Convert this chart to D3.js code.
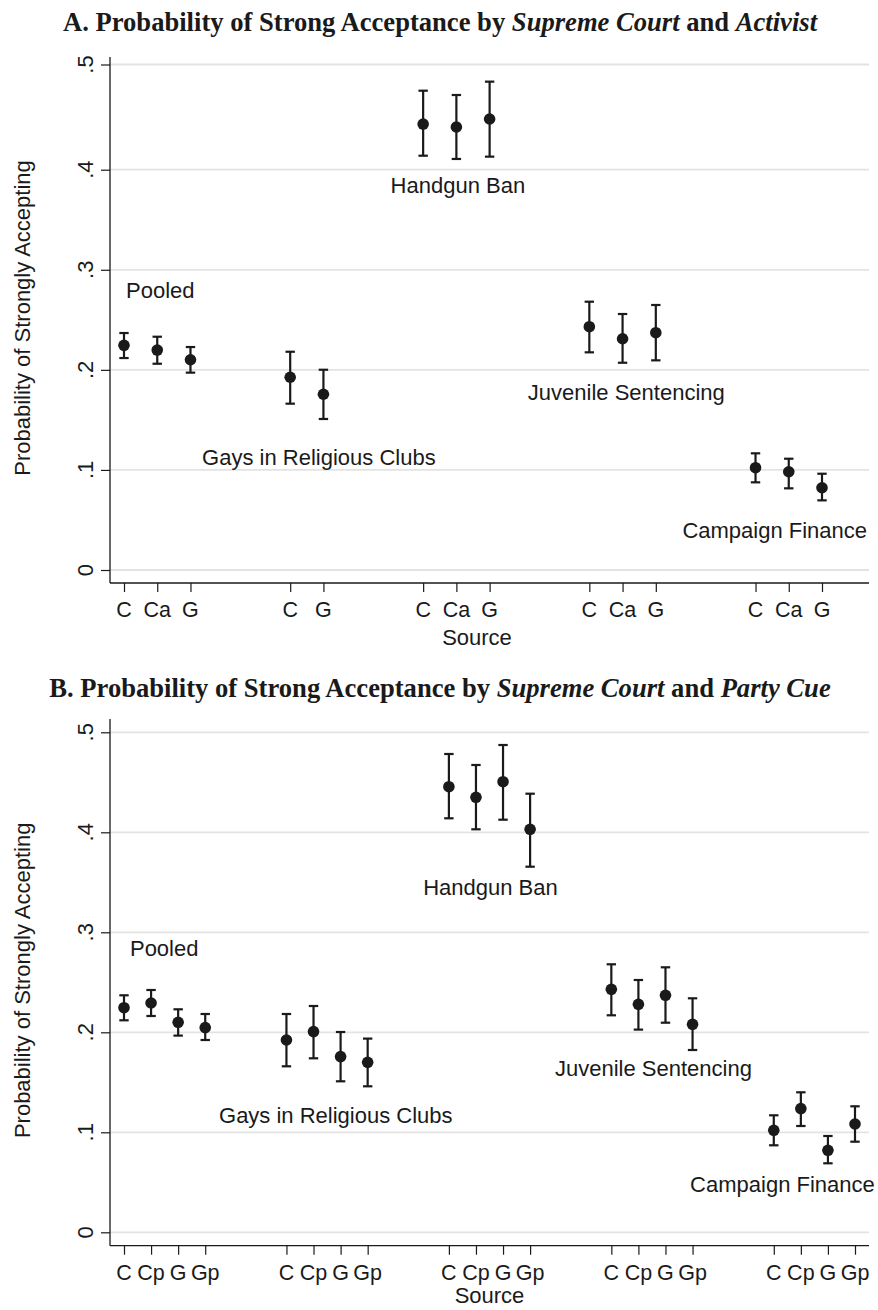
<!DOCTYPE html>
<html>
<head>
<meta charset="utf-8">
<script src="https://cdn.jsdelivr.net/npm/d3@7"></script>
<style>
  html, body { margin: 0; padding: 0; background: #fff; }
  svg { display: block; }
  text { font-family: "Liberation Sans", Arial, sans-serif; fill: #1a1a1a; }
  .title { font-family: "Liberation Serif", "Times New Roman", serif; font-weight: bold; }
</style>
</head>
<body>
<svg id="chart" width="878" height="1310"></svg>
<script>
// ---------------- DATA ----------------
// Panel A: Supreme Court and Activist
const posA = [1, 2, 3, 6, 7, 10, 11, 12, 15, 16, 17, 20, 21, 22];
const tickLabelsA = ["C", "Ca", "G", "C", "G", "C", "Ca", "G", "C", "Ca", "G", "C", "Ca", "G"];
const estA = [0.2245, 0.2198, 0.2101, 0.1926, 0.1756, 0.4434, 0.4406, 0.4482, 0.2431, 0.2311, 0.2371, 0.1022, 0.0982, 0.0822];
const hiA  = [0.2368, 0.2331, 0.2228, 0.2181, 0.2001, 0.4751, 0.4710, 0.4837, 0.2681, 0.2558, 0.2648, 0.1166, 0.1112, 0.0962];
const loA  = [0.2118, 0.2061, 0.1972, 0.1662, 0.1509, 0.4133, 0.4102, 0.4124, 0.2175, 0.2071, 0.2095, 0.0876, 0.0816, 0.0696];
const issueLabelsA = ["Pooled", "Handgun Ban", "Gays in Religious Clubs", "Juvenile Sentencing", "Campaign Finance"];
const issueLabelXA = [1.06, 9.02, 3.35, 13.15, 17.80];
const issueLabelYA = [0.2718, 0.3767, 0.1049, 0.1699, 0.0323];

// Panel B: Supreme Court and Party Cue
const posB = [1, 2, 3, 4, 7, 8, 9, 10, 13, 14, 15, 16, 19, 20, 21, 22, 25, 26, 27, 28];
const tickLabelsB = ["C", "Cp", "G", "Gp", "C", "Cp", "G", "Gp", "C", "Cp", "G", "Gp", "C", "Cp", "G", "Gp", "C", "Cp", "G", "Gp"];
const estB = [0.2246, 0.2293, 0.2100, 0.2047, 0.1923, 0.2007, 0.1757, 0.1700, 0.4456, 0.4350, 0.4506, 0.4030, 0.2430, 0.2280, 0.2370, 0.2080, 0.1020, 0.1237, 0.0820, 0.1083];
const hiB  = [0.2370, 0.2423, 0.2230, 0.2183, 0.2183, 0.2263, 0.2003, 0.1937, 0.4783, 0.4673, 0.4873, 0.4386, 0.2680, 0.2523, 0.2650, 0.2340, 0.1170, 0.1400, 0.0963, 0.1260];
const loB  = [0.2120, 0.2163, 0.1967, 0.1923, 0.1660, 0.1740, 0.1510, 0.1460, 0.4140, 0.4030, 0.4126, 0.3656, 0.2170, 0.2027, 0.2096, 0.1823, 0.0870, 0.1063, 0.0690, 0.0906];
const issueLabelsB = ["Pooled", "Handgun Ban", "Gays in Religious Clubs", "Juvenile Sentencing", "Campaign Finance"];
const issueLabelXB = [1.22, 12.05, 4.51, 16.92, 21.91];
const issueLabelYB = [0.2763, 0.3373, 0.1093, 0.1563, 0.0406];

const yTicks = [0, 0.1, 0.2, 0.3, 0.4, 0.5];
const yTickLabels = ["0", ".1", ".2", ".3", ".4", ".5"];

// ---------------- DRAWING ----------------
const svg = d3.select("#chart");
const INK = "#1a1a1a";

function panel(cfg) {
  const g = svg.append("g");
  const x = d3.scaleLinear().domain(cfg.xDomain).range(cfg.xRange);
  const y = d3.scaleLinear().domain(cfg.yDomain).range(cfg.yRange);

  // title (with italic parts)
  const t = g.append("text").attr("class", "title")
    .attr("x", 440).attr("y", cfg.titleY)
    .attr("text-anchor", "middle")
    .style("font-size", "26.6px");
  cfg.titleParts.forEach(p => {
    t.append("tspan").text(p[0]).style("font-style", p[1] ? "italic" : "normal");
  });

  // gridlines
  g.append("g").selectAll("line").data(yTicks).join("line")
    .attr("x1", cfg.left).attr("x2", cfg.right)
    .attr("y1", d => y(d)).attr("y2", d => y(d))
    .attr("stroke", "#e3e3e3").attr("stroke-width", 1.8);

  // y axis
  const yAxis = d3.axisLeft(y).tickValues(yTicks)
    .tickFormat((d, i) => yTickLabels[i]).tickSize(9).tickPadding(0);
  const ya = g.append("g").attr("transform", `translate(${cfg.left},0)`).call(yAxis);
  ya.select(".domain").remove();
  ya.selectAll(".tick line").attr("stroke", INK).attr("stroke-width", 1.2);
  ya.selectAll(".tick text").remove();
  g.append("line").attr("x1", cfg.left).attr("x2", cfg.left)
    .attr("y1", cfg.axisTop).attr("y2", cfg.axisBottom)
    .attr("stroke", INK).attr("stroke-width", 1.3);
  g.append("g").selectAll("text").data(yTicks).join("text")
    .attr("transform", d => `translate(${cfg.left - 17},${y(d)}) rotate(-90)`)
    .attr("text-anchor", "middle")
    .style("font-size", "22px")
    .text((d, i) => yTickLabels[i]);

  // x axis
  const xAxis = d3.axisBottom(x).tickValues(cfg.pos)
    .tickFormat((d, i) => cfg.tickLabels[i]).tickSize(9).tickPadding(0);
  const xa = g.append("g").attr("transform", `translate(0,${cfg.axisBottom})`).call(xAxis);
  xa.select(".domain").remove();
  xa.selectAll(".tick line").attr("stroke", INK).attr("stroke-width", 1.2);
  xa.selectAll(".tick text").remove();
  g.append("line").attr("x1", cfg.left).attr("x2", cfg.right)
    .attr("y1", cfg.axisBottom).attr("y2", cfg.axisBottom)
    .attr("stroke", INK).attr("stroke-width", 1.3);
  g.append("g").selectAll("text").data(cfg.pos).join("text")
    .attr("x", d => x(d)).attr("y", cfg.axisBottom + 34)
    .attr("text-anchor", "middle")
    .style("font-size", "21.5px")
    .text((d, i) => cfg.tickLabels[i]);

  // axis titles
  g.append("text")
    .attr("transform", `translate(29.5,${(cfg.axisTop + cfg.axisBottom) / 2 - 2}) rotate(-90)`)
    .attr("text-anchor", "middle").style("font-size", "22px")
    .text("Probability of Strongly Accepting");
  g.append("text")
    .attr("x", cfg.sourceX).attr("y", cfg.axisBottom + cfg.sourceDy)
    .attr("text-anchor", "middle").style("font-size", "22px")
    .text("Source");

  // error bars + points
  const capW = 4.7;
  const pts = cfg.pos.map((p, i) => ({ p, est: cfg.est[i], lo: cfg.lo[i], hi: cfg.hi[i] }));
  const eb = g.append("g").selectAll("g").data(pts).join("g");
  eb.append("line").attr("x1", d => x(d.p)).attr("x2", d => x(d.p))
    .attr("y1", d => y(d.lo)).attr("y2", d => y(d.hi))
    .attr("stroke", INK).attr("stroke-width", 2.2);
  eb.append("line").attr("x1", d => x(d.p) - capW).attr("x2", d => x(d.p) + capW)
    .attr("y1", d => y(d.hi)).attr("y2", d => y(d.hi))
    .attr("stroke", INK).attr("stroke-width", 2.2);
  eb.append("line").attr("x1", d => x(d.p) - capW).attr("x2", d => x(d.p) + capW)
    .attr("y1", d => y(d.lo)).attr("y2", d => y(d.lo))
    .attr("stroke", INK).attr("stroke-width", 2.2);
  eb.append("circle").attr("cx", d => x(d.p)).attr("cy", d => y(d.est))
    .attr("r", 5.8).attr("fill", INK);

  // issue labels (placed in data coordinates)
  g.append("g").selectAll("text").data(cfg.labels).join("text")
    .attr("x", (d, i) => x(cfg.labelX[i])).attr("y", (d, i) => y(cfg.labelY[i]))
    .attr("text-anchor", "start").style("font-size", "22px")
    .text(d => d);
}

panel({
  titleY: 31,
  titleParts: [["A. Probability of Strong Acceptance by ", false], ["Supreme Court", true], [" and ", false], ["Activist", true]],
  xDomain: [1, 22], xRange: [124, 822],
  yDomain: [0, 0.4, 0.5], yRange: [570, 169.7, 64.5],
  left: 110, right: 869, axisTop: 57, axisBottom: 583,
  sourceX: 477, sourceDy: 62,
  pos: posA, tickLabels: tickLabelsA, est: estA, lo: loA, hi: hiA,
  labels: issueLabelsA, labelX: issueLabelXA, labelY: issueLabelYA
});

panel({
  titleY: 697,
  titleParts: [["B. Probability of Strong Acceptance by ", false], ["Supreme Court", true], [" and ", false], ["Party Cue", true]],
  xDomain: [1, 28], xRange: [124, 855],
  yDomain: [0, 0.5], yRange: [1232.3, 732.3],
  left: 110, right: 869, axisTop: 719, axisBottom: 1245.7,
  sourceX: 489.5, sourceDy: 57.5,
  pos: posB, tickLabels: tickLabelsB, est: estB, lo: loB, hi: hiB,
  labels: issueLabelsB, labelX: issueLabelXB, labelY: issueLabelYB
});
</script>
</body>
</html>
